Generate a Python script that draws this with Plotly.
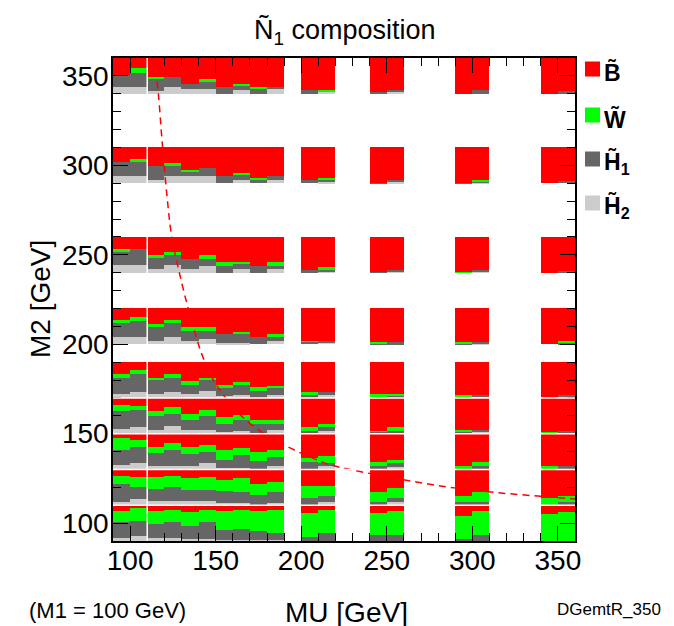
import plotly.graph_objects as go

# ---------------- data ----------------
MU_CENTERS = [100, 120, 140, 160, 180, 210, 250, 300, 350]
M2_CENTERS = [100, 120, 140, 160, 180, 210, 250, 300, 350]
CELL = 20.0          # GeV size of one scan cell
SUB = 10.0           # GeV width of one half-column inside a cell

# fractions per row (M2), each row: [left, right] halves for every MU cell
BINO = [
    [.15, .05, .15, .12, .20, .13, .15, .13, .15, .13, .21, .14, .21, .16, .30, .16, .25, .20],
    [.17, .20, .20, .18, .25, .22, .30, .25, .40, .34, .45, .45, .62, .52, .73, .62, .80, .73],
    [.12, .18, .38, .25, .38, .31, .46, .41, .50, .46, .68, .62, .80, .74, .90, .80, .90, .90],
    [.20, .22, .36, .25, .44, .34, .53, .48, .63, .63, .82, .74, .92, .82, .90, .90, .95, .93],
    [.33, .22, .43, .33, .53, .43, .65, .55, .70, .66, .83, .83, .90, .90, .93, .93, 1.0, .93],
    [.33, .24, .43, .33, .52, .52, .72, .65, .81, .72, .90, .90, .95, .95, .93, .93, 1.0, .92],
    [.33, .33, .52, .41, .62, .52, .70, .70, .81, .70, .93, .84, .97, .93, .98, .93, 1.0, .95],
    [.41, .33, .52, .43, .62, .57, .81, .71, .86, .81, .92, .86, .98, .92, .98, .92, 1.0, .94],
    [.48, .29, .52, .52, .72, .60, .81, .72, .80, .80, .90, .90, .95, .90, 1.0, .90, 1.0, .93],
]
WINO = [
    [.33, .40, .38, .36, .37, .35, .55, .54, .57, .64, .68, .65, .63, .68, .63, .68, .75, .80],
    [.25, .28, .35, .32, .33, .35, .30, .38, .32, .30, .36, .28, .28, .29, .17, .28, .20, .17],
    [.33, .20, .16, .22, .20, .20, .27, .20, .25, .20, .10, .19, .10, .08, .10, .10, .10, 0],
    [.17, .13, .16, .20, .19, .18, .20, .15, .10, .10, .10, .08, .02, .10, .06, 0, .05, 0],
    [.10, .12, .08, .10, .10, .08, .05, .10, .10, .05, .10, 0, .05, .04, .03, 0, 0, 0],
    [.08, .10, .10, .08, .10, .10, 0, .07, 0, .09, .03, 0, .02, 0, .04, 0, 0, .04],
    [.08, 0, .05, .11, 0, .10, .11, .04, 0, .11, 0, .08, 0, 0, .01, 0, 0, 0],
    [0, .08, 0, .10, .05, 0, 0, .05, .05, 0, 0, .06, 0, 0, 0, .02, 0, 0],
    [0, .12, .07, 0, 0, .08, 0, .04, .05, 0, 0, .03, 0, 0, 0, 0, 0, 0],
]
HIGGSINO1 = [
    [.43, .42, .39, .44, .37, .46, .27, .30, .25, .20, .11, .21, .16, .16, .07, .16, 0, 0],
    [.48, .35, .33, .38, .30, .30, .33, .30, .28, .30, .19, .17, .10, .10, .10, .10, 0, .10],
    [.42, .45, .36, .43, .32, .32, .22, .34, .25, .24, .22, .08, .10, .12, 0, .10, 0, .10],
    [.50, .45, .38, .33, .27, .38, .22, .30, .27, .18, .08, .10, .06, .08, .04, .06, 0, .07],
    [.47, .49, .39, .40, .27, .30, .25, .27, .20, .20, .07, .10, .05, .06, .04, .04, 0, .07],
    [.40, .47, .38, .40, .29, .24, .24, .24, .19, .10, .07, .04, .03, .05, .03, .05, 0, .04],
    [.38, .46, .33, .27, .28, .20, .19, .16, .19, .09, .07, .04, .03, .05, .01, .04, 0, .05],
    [.40, .40, .38, .28, .14, .24, .19, .14, .09, .10, .08, .04, .02, .04, .02, .04, 0, .06],
    [.33, .40, .34, .29, .16, .20, .19, .14, .15, .08, .10, .02, .05, .05, 0, .10, 0, .07],
]
HIGGSINO2 = [
    [.09, .13, .08, .08, .06, .06, .03, .03, .03, .03, 0, 0, 0, 0, 0, 0, 0, 0],
    [.10, .17, .12, .12, .12, .13, .07, .07, 0, .06, 0, .10, 0, .09, 0, 0, 0, 0],
    [.13, .17, .10, .10, .10, .17, .05, .05, 0, .10, 0, .11, 0, .06, 0, 0, 0, 0],
    [.13, .20, .10, .22, .10, .10, .05, .07, 0, .09, 0, .08, 0, 0, 0, .04, 0, 0],
    [.10, .17, .10, .17, .10, .19, .05, .08, 0, .09, 0, .07, 0, 0, 0, .03, 0, 0],
    [.19, .19, .09, .19, .09, .14, .04, .04, 0, .09, 0, .06, 0, 0, 0, .02, 0, 0],
    [.21, .21, .10, .21, .10, .18, 0, .10, 0, .10, 0, .04, 0, .02, 0, .03, 0, 0],
    [.19, .19, .10, .19, .19, .19, 0, .10, 0, .09, 0, .04, 0, .04, 0, .02, 0, 0],
    [.19, .19, .07, .19, .12, .12, 0, .10, 0, .12, 0, .05, 0, .05, 0, 0, 0, 0],
]

# red dashed contour
CURVE_MU = [113, 115.5, 119, 121.7, 124.2, 130, 136, 141.7, 148, 155, 166, 179, 192, 205, 217, 238.7, 264, 289.4, 315, 340, 360]
CURVE_M2 = [360, 348.5, 310, 281.5, 261, 235, 213, 195, 181, 171, 159, 149.5, 142.7, 137, 132.6, 128, 123.5, 119.7, 117, 115, 113.5]

COMPONENTS = [  # stacked from the bottom up
    ("H2", HIGGSINO2, "#cccccc"),
    ("H1", HIGGSINO1, "#666666"),
    ("W", WINO, "#00ff00"),
    ("B", BINO, "#ff0000"),
]

FONT = "Liberation Sans, Arial, Helvetica, sans-serif"

# ---------------- build bars ----------------
fig = go.Figure()
xs, rows_idx, cols_idx = [], [], []
for r, m2 in enumerate(M2_CENTERS):
    for c, mu in enumerate(MU_CENTERS):
        for h, off in enumerate((-SUB / 2, SUB / 2)):
            xs.append(mu + off)
            rows_idx.append(r)
            cols_idx.append(2 * c + h)

cum = [0.0] * len(xs)
for name, table, color in COMPONENTS:
    heights, bases = [], []
    for k in range(len(xs)):
        r, j = rows_idx[k], cols_idx[k]
        frac = table[r][j]
        bottom = M2_CENTERS[r] - CELL / 2
        bases.append(bottom + cum[k] * CELL)
        heights.append(frac * CELL)
        cum[k] += frac
    fig.add_trace(go.Bar(x=xs, y=heights, base=bases, width=SUB,
                         marker=dict(color=color, line=dict(width=0)),
                         showlegend=False, hoverinfo="skip", name=name))

fig.add_trace(go.Scatter(x=CURVE_MU, y=CURVE_M2, mode="lines", line_shape="spline",
                         line=dict(color="#ff0000", width=1.5, dash="7px,5px"),
                         showlegend=False, hoverinfo="skip"))

# white separators between touching cells
shapes = []
for yb in (110, 130, 150, 170):
    shapes.append(dict(type="line", xref="x", yref="y", x0=90, x1=360, y0=yb, y1=yb,
                       line=dict(color="white", width=1.5), layer="above"))
shapes.append(dict(type="line", xref="x", yref="y", x0=110, x1=110, y0=90, y1=360,
                   line=dict(color="white", width=1.5), layer="above"))

# ---------------- layout ----------------
# window pixel geometry (the page body adds an 8px offset)
OFF = 8
WIN_W, WIN_H = 674, 626
PLOT_X0, PLOT_X1, PLOT_Y0, PLOT_Y1 = 113, 575, 58, 541
W_, H_ = WIN_W - OFF, WIN_H - OFF
L, R = PLOT_X0 - OFF, WIN_W - PLOT_X1
T, B = PLOT_Y0 - OFF, WIN_H - PLOT_Y1
PW, PH = W_ - L - R, H_ - T - B


def px(x):
    return (x - OFF - L) / PW


def py(y):
    return (H_ - B - (y - OFF)) / PH


annotations = []
legend_items = [("<b>B\u0303</b>", "#ff0000", 69),
                ("<b>W\u0303</b>", "#00ff00", 115),
                ("<b>H\u0303<sub>1</sub></b>", "#666666", 159),
                ("<b>H\u0303<sub>2</sub></b>", "#cccccc", 203)]
for text, color, yc in legend_items:
    shapes.append(dict(type="rect", xref="paper", yref="paper",
                       x0=px(585), x1=px(600), y0=py(yc + 7.5), y1=py(yc - 7.5),
                       fillcolor=color, line=dict(width=0)))
    annotations.append(dict(text=text, xref="paper", yref="paper", x=px(602), y=py(yc + 4),
                            xanchor="left", yanchor="middle", showarrow=False,
                            font=dict(family=FONT, size=23, color="black")))

annotations += [
    dict(text="Ñ<sub>1</sub> composition", xref="paper", yref="paper",
         x=px(345), y=py(31), xanchor="center", yanchor="middle", showarrow=False,
         font=dict(family=FONT, size=27, color="black")),
    dict(text="M2 [GeV]", xref="paper", yref="paper", x=px(40), y=py(299),
         xanchor="center", yanchor="middle", textangle=-90, showarrow=False,
         font=dict(family=FONT, size=28, color="black")),
    dict(text="MU [GeV]", xref="paper", yref="paper", x=px(346), y=py(612),
         xanchor="center", yanchor="middle", showarrow=False,
         font=dict(family=FONT, size=28, color="black")),
    dict(text="(M1 = 100 GeV)", xref="paper", yref="paper", x=px(27), y=py(610),
         xanchor="left", yanchor="middle", showarrow=False,
         font=dict(family=FONT, size=22, color="black")),
    dict(text="DGemtR_350", xref="paper", yref="paper", x=px(555), y=py(609),
         xanchor="left", yanchor="middle", showarrow=False,
         font=dict(family=FONT, size=17, color="black")),
]

axis_common = dict(
    showgrid=False, zeroline=False, showline=True, linecolor="black", linewidth=1.5,
    mirror="allticks", ticks="inside", ticklen=15, tickwidth=1.2, tickcolor="black",
    tick0=100, dtick=50,
    minor=dict(ticks="inside", ticklen=8, tickwidth=1, tickcolor="black", dtick=10, tick0=100, showgrid=False),
    tickfont=dict(family=FONT, size=28, color="black"),
)

fig.update_layout(
    width=W_, height=H_, autosize=False,
    margin=dict(l=L, r=R, t=T, b=B),
    paper_bgcolor="white", plot_bgcolor="white",
    barmode="overlay", bargap=0,
    xaxis=dict(range=[90, 360], ticklabelstandoff=-6, **axis_common),
    yaxis=dict(range=[90, 360], ticklabelstandoff=-3, **axis_common),
    shapes=shapes, annotations=annotations,
    showlegend=False,
)

fig.write_html("out.html")
